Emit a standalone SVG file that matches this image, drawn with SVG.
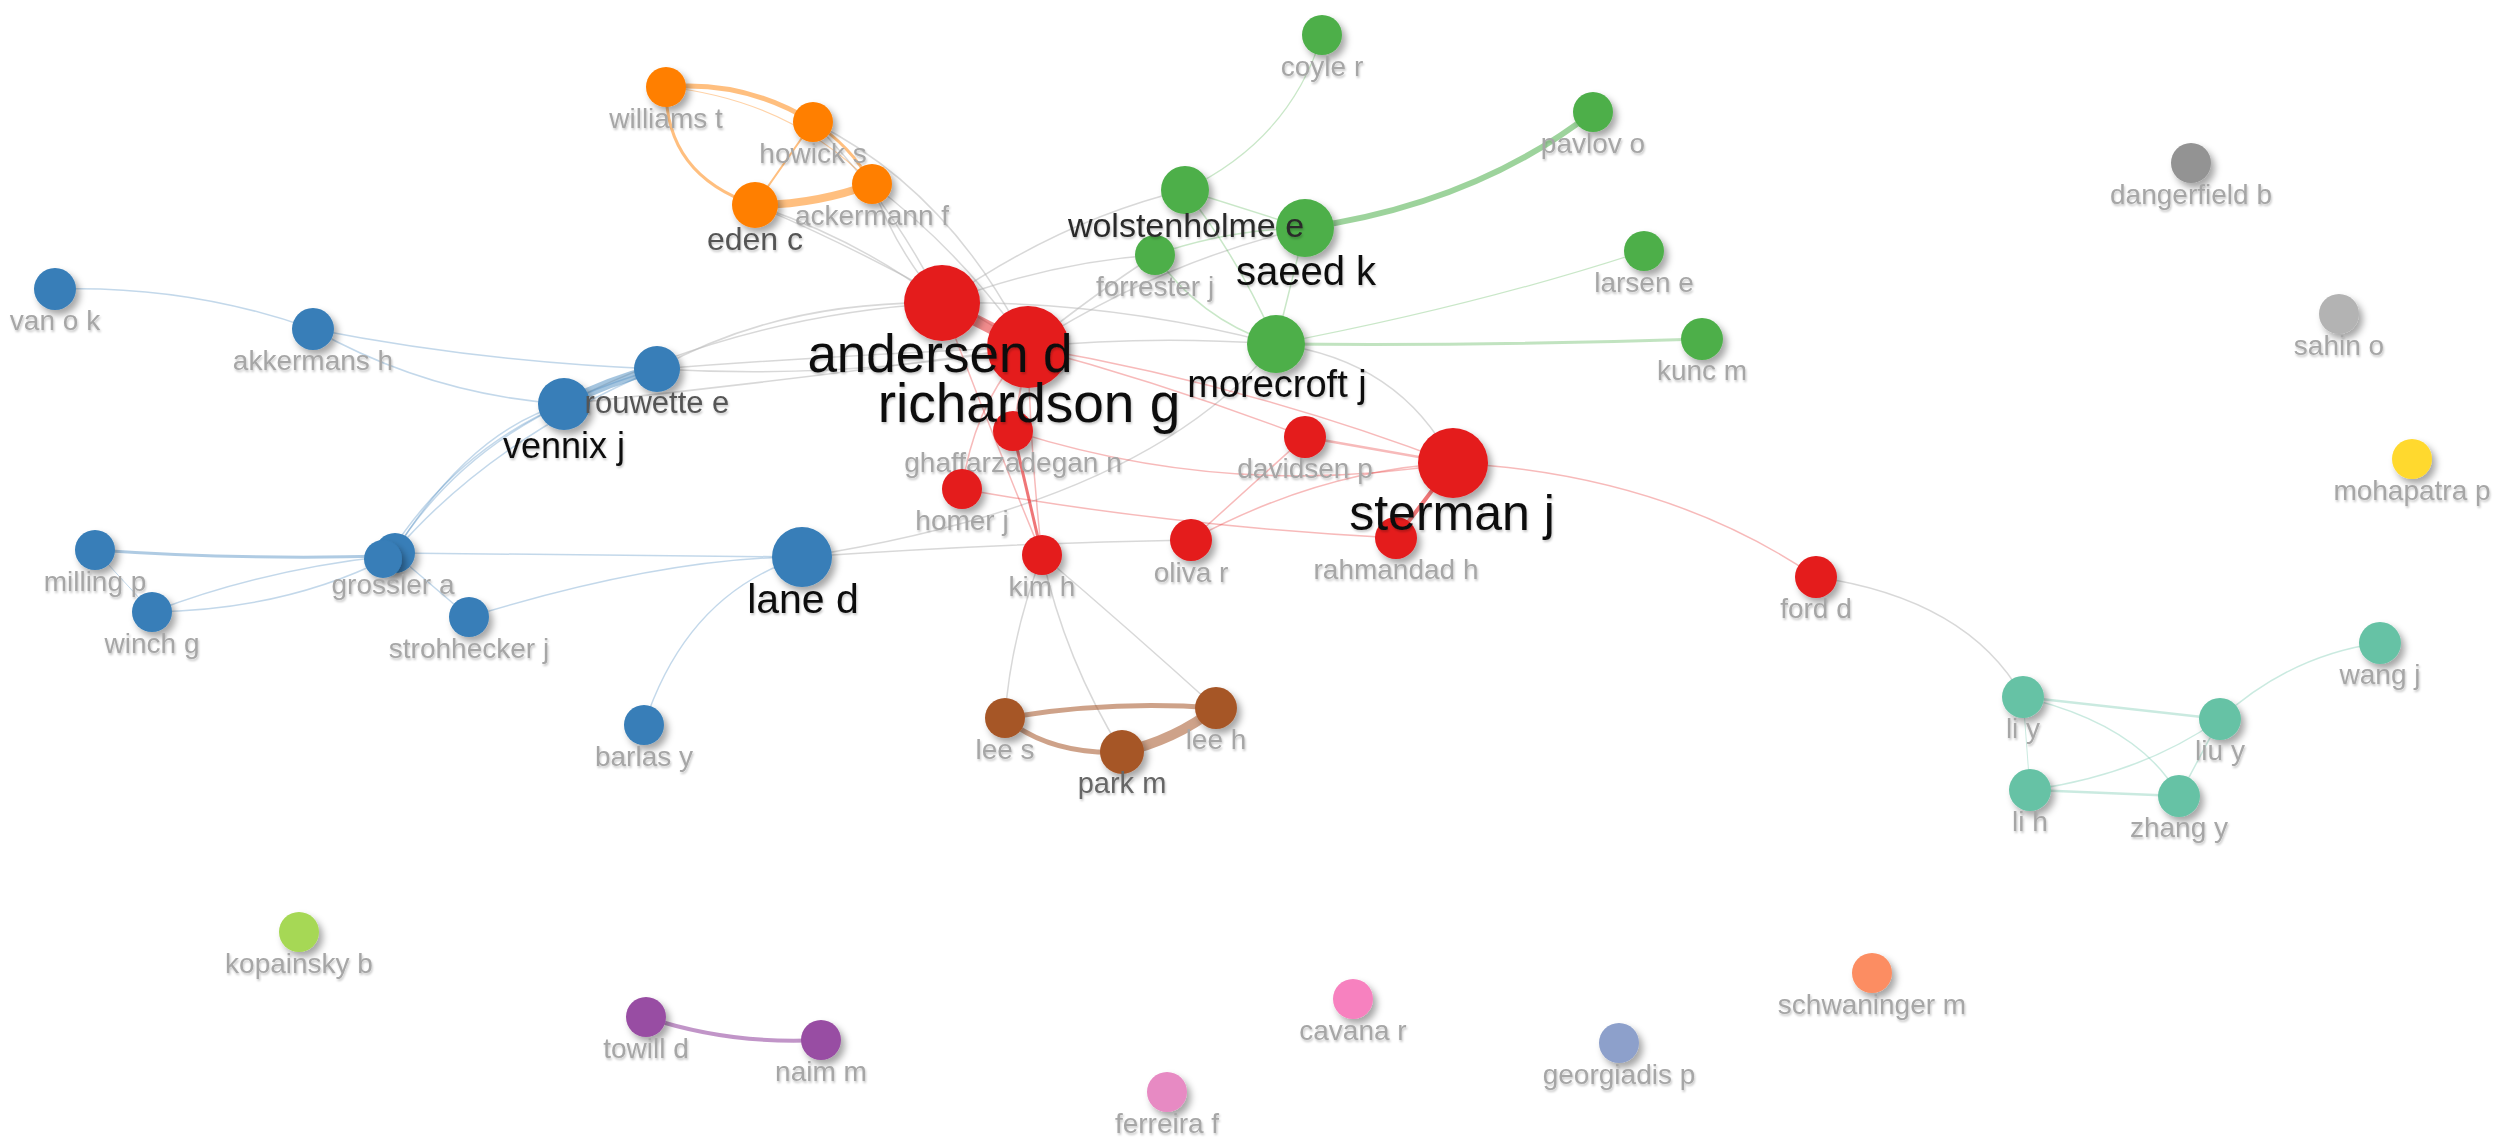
<svg xmlns="http://www.w3.org/2000/svg" width="2500" height="1143" viewBox="0 0 2500 1143">
<defs>
<filter id="sh" x="-60%" y="-60%" width="220%" height="220%"><feDropShadow dx="4" dy="5" stdDeviation="3.5" flood-color="#000" flood-opacity="0.35"/></filter>
<filter id="tsh" x="-10%" y="-30%" width="120%" height="160%"><feDropShadow dx="1" dy="2" stdDeviation="1.2" flood-color="#000" flood-opacity="0.22"/></filter>
<style>
.node circle{filter:url(#sh)}
.red{fill:#e41a1c}.blue{fill:#377eb8}.green{fill:#4daf4a}.orange{fill:#ff7f00}.brown{fill:#a65628}.teal{fill:#66c2a5}
.grey{fill:#939393}.lgrey{fill:#b3b3b3}.yellow{fill:#ffd92f}.purple{fill:#984ea3}.pink{fill:#f781bf}.lpink{fill:#e78ac3}.lav{fill:#8da0cb}.salmon{fill:#fc8d62}.lime{fill:#a6d854}
text{font-family:"Liberation Sans",Arial,Helvetica,sans-serif;text-anchor:middle;filter:url(#tsh)}
.lb{font-size:28px;fill:#a6a6a6}
.bk{fill:#111111}
.dg{fill:#555555}
.e{fill:none;stroke-linecap:round;stroke-width:1.5}
.eg{stroke:#b8b8b8;stroke-opacity:0.55}
.er{stroke:#e41a1c;stroke-opacity:0.3}
.eb{stroke:#377eb8;stroke-opacity:0.3}
.egr{stroke:#4daf4a;stroke-opacity:0.3}
.eo{stroke:#ff7f00;stroke-opacity:0.5}
.et{stroke:#66c2a5;stroke-opacity:0.35}
.ebr{stroke:#a65628;stroke-opacity:0.55}
.ep{stroke:#984ea3;stroke-opacity:0.6}
</style>
</defs>
<rect width="2500" height="1143" fill="#ffffff"/>
<g id="connectors">
<path class="e eg" d="M755,205 Q860,240 942,303"/>
<path class="e eg" d="M755,205 Q890,262 1028,347"/>
<path class="e eg" d="M872,184 Q895,250 942,303"/>
<path class="e eg" d="M872,184 Q960,250 1028,347"/>
<path class="e eg" d="M813,122 Q890,200 942,303"/>
<path class="e eg" d="M813,122 Q950,190 1028,347"/>
<path class="e eg" d="M657,369 Q780,300 942,303"/>
<path class="e eg" d="M657,369 Q840,355 1028,347"/>
<path class="e eg" d="M657,369 Q850,380 1028,347"/>
<path class="e eg" d="M564,404 Q740,315 942,303"/>
<path class="e eg" d="M564,404 Q800,380 1028,347"/>
<path class="e eg" d="M942,303 Q1060,220 1185,190"/>
<path class="e eg" d="M942,303 Q1050,262 1155,255"/>
<path class="e eg" d="M942,303 Q1110,300 1276,344"/>
<path class="e eg" d="M1028,347 Q1150,335 1276,344"/>
<path class="e eg" d="M1028,347 Q1160,262 1305,228"/>
<path class="e eg" d="M1028,347 Q1100,290 1155,255"/>
<path class="e eg" d="M1276,344 Q1400,360 1453,463"/>
<path class="e eg" d="M802,557 Q1000,543 1191,540"/>
<path class="e eg" d="M802,557 Q1149,503 1276,344"/>
<path class="e eg" d="M1042,555 Q1010,640 1005,718"/>
<path class="e eg" d="M1042,555 Q1065,660 1122,752"/>
<path class="e eg" d="M1042,555 Q1130,630 1216,708"/>
<path class="e eg" d="M1816,577 Q1968,599 2023,697"/>
<path class="e eo" style="stroke-width:5" d="M666,87 Q745,80 813,122"/>
<path class="e eo" style="stroke-width:3" d="M666,87 Q665,175 755,205"/>
<path class="e eo" style="stroke-width:1.2;stroke-opacity:0.35" d="M666,87 Q790,100 872,184"/>
<path class="e eo" style="stroke-width:2" d="M813,122 L755,205"/>
<path class="e eo" style="stroke-width:3" d="M813,122 Q850,145 872,184"/>
<path class="e eo" style="stroke-width:8" d="M755,205 Q815,205 872,184"/>
<path class="e eb" d="M55,289 Q190,285 313,329"/>
<path class="e eb" d="M313,329 Q480,362 657,369"/>
<path class="e eb" d="M313,329 Q430,395 564,404"/>
<path class="e eb" style="stroke-width:10;stroke-opacity:0.45" d="M564,404 Q610,380 657,369"/>
<path class="e eb" d="M564,404 Q470,430 394,553"/>
<path class="e eb" d="M564,404 Q455,450 388,556"/>
<path class="e eb" d="M657,369 Q475,420 394,553"/>
<path class="e eb" d="M657,369 Q490,440 392,555"/>
<path class="e eb" style="stroke-width:3;stroke-opacity:0.4" d="M95,550 Q240,560 388,556"/>
<path class="e eb" style="stroke-width:1" d="M95,550 L152,612"/>
<path class="e eb" d="M152,612 Q260,570 388,556"/>
<path class="e eb" d="M152,612 Q285,610 388,558"/>
<path class="e eb" d="M394,553 L469,617"/>
<path class="e eb" d="M394,553 L802,557"/>
<path class="e eb" d="M469,617 Q665,557 802,557"/>
<path class="e eb" d="M802,557 Q687,593 644,725"/>
<path class="e er" style="stroke-width:12;stroke-opacity:0.5" d="M942,303 L1028,347"/>
<path class="e er" style="stroke-width:2" d="M1028,347 L1013,431"/>
<path class="e er" style="stroke-width:3;stroke-opacity:0.6" d="M1013,431 L1042,555"/>
<path class="e er" d="M1028,347 Q1030,450 1042,555"/>
<path class="e er" d="M942,303 Q990,430 1042,555"/>
<path class="e er" d="M1028,347 Q975,400 962,489"/>
<path class="e er" d="M1028,347 Q1250,385 1453,463"/>
<path class="e er" d="M1028,347 Q1170,385 1305,437"/>
<path class="e er" d="M1013,431 Q1230,500 1453,463"/>
<path class="e er" d="M962,489 Q1171,526 1396,538"/>
<path class="e er" d="M1191,540 L1305,437"/>
<path class="e er" d="M1191,540 Q1320,470 1453,463"/>
<path class="e er" style="stroke-width:2.5" d="M1305,437 L1453,463"/>
<path class="e er" style="stroke-width:4;stroke-opacity:0.6" d="M1453,463 L1396,538"/>
<path class="e er" d="M1453,463 Q1665,474 1816,577"/>
<path class="e egr" style="stroke-width:1.2" d="M1322,35 Q1290,140 1185,190"/>
<path class="e egr" style="stroke-width:6;stroke-opacity:0.55" d="M1305,228 Q1475,204 1593,112"/>
<path class="e egr" d="M1185,190 L1305,228"/>
<path class="e egr" d="M1185,190 Q1240,260 1276,344"/>
<path class="e egr" d="M1155,255 Q1200,320 1276,344"/>
<path class="e egr" d="M1155,255 Q1225,230 1305,228"/>
<path class="e egr" d="M1305,228 L1276,344"/>
<path class="e egr" style="stroke-width:3;stroke-opacity:0.35" d="M1276,344 Q1490,346 1702,339"/>
<path class="e egr" style="stroke-width:1.2" d="M1276,344 Q1480,305 1644,251"/>
<path class="e et" style="stroke-width:2.5" d="M2023,697 L2220,719"/>
<path class="e et" d="M2023,697 Q2140,725 2179,796"/>
<path class="e et" style="stroke-width:1" d="M2023,697 L2030,790"/>
<path class="e et" d="M2030,790 Q2140,775 2220,719"/>
<path class="e et" style="stroke-width:2.5" d="M2030,790 L2179,796"/>
<path class="e et" d="M2179,796 L2220,719"/>
<path class="e et" d="M2220,719 Q2290,655 2380,643"/>
<path class="e ebr" style="stroke-width:5" d="M1005,718 Q1110,700 1216,708"/>
<path class="e ebr" style="stroke-width:5" d="M1005,718 Q1050,755 1122,752"/>
<path class="e ebr" style="stroke-width:10" d="M1122,752 Q1175,740 1216,708"/>
<path class="e ep" style="stroke-width:4" d="M646,1017 Q730,1045 821,1040"/>
</g>
<g id="nodes">
<g id="node-williams-t" class="node"><circle class="orange" cx="666" cy="87" r="20"/><text class="lb" x="666" y="128">williams t</text></g>
<g id="node-howick-s" class="node"><circle class="orange" cx="813" cy="122" r="20"/><text class="lb" x="813" y="163">howick s</text></g>
<g id="node-ackermann-f" class="node"><circle class="orange" cx="872" cy="184" r="20"/><text class="lb" x="872" y="225">ackermann f</text></g>
<g id="node-eden-c" class="node"><circle class="orange" cx="755" cy="205" r="23"/><text class="dg" font-size="32" x="755" y="250">eden c</text></g>
<g id="node-van-o-k" class="node"><circle class="blue" cx="55" cy="289" r="21"/><text class="lb" x="55" y="330">van o k</text></g>
<g id="node-akkermans-h" class="node"><circle class="blue" cx="313" cy="329" r="21"/><text class="lb" x="313" y="370">akkermans h</text></g>
<g id="node-vennix-j" class="node"><circle class="blue" cx="564" cy="404" r="26"/><text class="bk" font-size="36" x="564" y="458">vennix j</text></g>
<g id="node-rouwette-e" class="node"><circle class="blue" cx="657" cy="369" r="23"/><text class="dg" font-size="31" x="657" y="413">rouwette e</text></g>
<g id="node-milling-p" class="node"><circle class="blue" cx="95" cy="550" r="20"/><text class="lb" x="95" y="591">milling p</text></g>
<g id="node-winch-g" class="node"><circle class="blue" cx="152" cy="612" r="20"/><text class="lb" x="152" y="653">winch g</text></g>
<g id="node-grossler-a-2" class="node"><circle class="blue" cx="395" cy="553" r="20"/></g>
<g id="node-grossler-a" class="node"><circle class="blue" cx="383" cy="559" r="19"/><text class="lb" x="393" y="594" fill="#999999">grossler a</text></g>
<g id="node-strohhecker-j" class="node"><circle class="blue" cx="469" cy="617" r="20"/><text class="lb" x="469" y="658">strohhecker j</text></g>
<g id="node-lane-d" class="node"><circle class="blue" cx="802" cy="557" r="30"/><text class="bk" font-size="41" x="803" y="613">lane d</text></g>
<g id="node-barlas-y" class="node"><circle class="blue" cx="644" cy="725" r="20"/><text class="lb" x="644" y="766">barlas y</text></g>
<g id="node-ghaffarzadegan-n" class="node"><circle class="red" cx="1013" cy="431" r="20"/><text class="lb" x="1013" y="472">ghaffarzadegan n</text></g>
<g id="node-richardson-g" class="node"><circle class="red" cx="1028" cy="347" r="41"/><text class="bk" font-size="55" x="1029" y="422">richardson g</text></g>
<g id="node-andersen-d" class="node"><circle class="red" cx="942" cy="303" r="38"/><text class="bk" font-size="53" x="940" y="372">andersen d</text></g>
<g id="node-homer-j" class="node"><circle class="red" cx="962" cy="489" r="20"/><text class="lb" x="962" y="530">homer j</text></g>
<g id="node-kim-h" class="node"><circle class="red" cx="1042" cy="555" r="20"/><text class="lb" x="1042" y="596">kim h</text></g>
<g id="node-oliva-r" class="node"><circle class="red" cx="1191" cy="540" r="21"/><text class="lb" x="1191" y="582">oliva r</text></g>
<g id="node-davidsen-p" class="node"><circle class="red" cx="1305" cy="437" r="21"/><text class="lb" x="1305" y="478">davidsen p</text></g>
<g id="node-rahmandad-h" class="node"><circle class="red" cx="1396" cy="538" r="21"/><text class="lb" x="1396" y="579">rahmandad h</text></g>
<g id="node-sterman-j" class="node"><circle class="red" cx="1453" cy="463" r="35"/><text class="bk" font-size="50" x="1452" y="530">sterman j</text></g>
<g id="node-ford-d" class="node"><circle class="red" cx="1816" cy="577" r="21"/><text class="lb" x="1816" y="618">ford d</text></g>
<g id="node-coyle-r" class="node"><circle class="green" cx="1322" cy="35" r="20"/><text class="lb" x="1322" y="76">coyle r</text></g>
<g id="node-pavlov-o" class="node"><circle class="green" cx="1593" cy="112" r="20"/><text class="lb" x="1593" y="153">pavlov o</text></g>
<g id="node-forrester-j" class="node"><circle class="green" cx="1155" cy="255" r="20"/><text class="lb" x="1155" y="296">forrester j</text></g>
<g id="node-saeed-k" class="node"><circle class="green" cx="1305" cy="228" r="29"/><text class="bk" font-size="40" x="1306" y="285">saeed k</text></g>
<g id="node-wolstenholme-e" class="node"><circle class="green" cx="1185" cy="190" r="24"/><text fill="#2a2a2a" font-size="34" x="1186" y="237">wolstenholme e</text></g>
<g id="node-morecroft-j" class="node"><circle class="green" cx="1276" cy="344" r="29"/><text class="bk" font-size="38" x="1277" y="397">morecroft j</text></g>
<g id="node-larsen-e" class="node"><circle class="green" cx="1644" cy="251" r="20"/><text class="lb" x="1644" y="292">larsen e</text></g>
<g id="node-kunc-m" class="node"><circle class="green" cx="1702" cy="339" r="21"/><text class="lb" x="1702" y="380">kunc m</text></g>
<g id="node-dangerfield-b" class="node"><circle class="grey" cx="2191" cy="163" r="20"/><text class="lb" x="2191" y="204">dangerfield b</text></g>
<g id="node-sahin-o" class="node"><circle class="lgrey" cx="2339" cy="314" r="20"/><text class="lb" x="2339" y="355">sahin o</text></g>
<g id="node-mohapatra-p" class="node"><circle class="yellow" cx="2412" cy="459" r="20"/><text class="lb" x="2412" y="500">mohapatra p</text></g>
<g id="node-li-y" class="node"><circle class="teal" cx="2023" cy="697" r="21"/><text class="lb" x="2023" y="738">li y</text></g>
<g id="node-liu-y" class="node"><circle class="teal" cx="2220" cy="719" r="21"/><text class="lb" x="2220" y="760">liu y</text></g>
<g id="node-wang-j" class="node"><circle class="teal" cx="2380" cy="643" r="21"/><text class="lb" x="2380" y="684">wang j</text></g>
<g id="node-li-h" class="node"><circle class="teal" cx="2030" cy="790" r="21"/><text class="lb" x="2030" y="831">li h</text></g>
<g id="node-zhang-y" class="node"><circle class="teal" cx="2179" cy="796" r="21"/><text class="lb" x="2179" y="837">zhang y</text></g>
<g id="node-lee-s" class="node"><circle class="brown" cx="1005" cy="718" r="20"/><text class="lb" x="1005" y="759">lee s</text></g>
<g id="node-lee-h" class="node"><circle class="brown" cx="1216" cy="708" r="21"/><text class="lb" x="1216" y="749">lee h</text></g>
<g id="node-park-m" class="node"><circle class="brown" cx="1122" cy="752" r="22"/><text fill="#666666" font-size="29" x="1122" y="793">park m</text></g>
<g id="node-kopainsky-b" class="node"><circle class="lime" cx="299" cy="932" r="20"/><text class="lb" x="299" y="973">kopainsky b</text></g>
<g id="node-towill-d" class="node"><circle class="purple" cx="646" cy="1017" r="20"/><text class="lb" x="646" y="1058">towill d</text></g>
<g id="node-naim-m" class="node"><circle class="purple" cx="821" cy="1040" r="20"/><text class="lb" x="821" y="1081">naim m</text></g>
<g id="node-ferreira-f" class="node"><circle class="lpink" cx="1167" cy="1092" r="20"/><text class="lb" x="1167" y="1133">ferreira f</text></g>
<g id="node-cavana-r" class="node"><circle class="pink" cx="1353" cy="999" r="20"/><text class="lb" x="1353" y="1040">cavana r</text></g>
<g id="node-georgiadis-p" class="node"><circle class="lav" cx="1619" cy="1043" r="20"/><text class="lb" x="1619" y="1084">georgiadis p</text></g>
<g id="node-schwaninger-m" class="node"><circle class="salmon" cx="1872" cy="973" r="20"/><text class="lb" x="1872" y="1014">schwaninger m</text></g>
</g>
</svg>
